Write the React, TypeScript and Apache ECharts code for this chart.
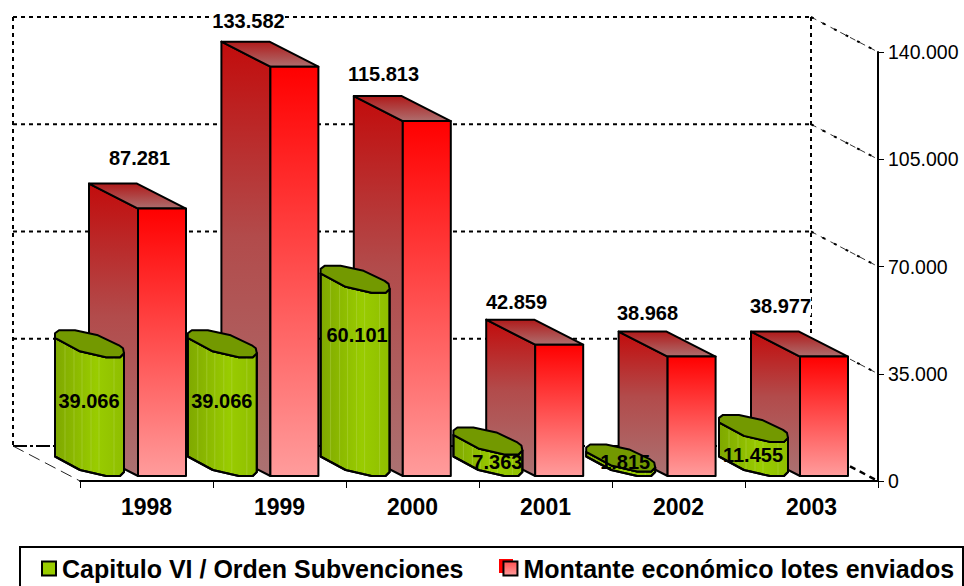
import React, { useEffect, useRef } from "react";
import * as echarts from "echarts";

const categories = ["1998", "1999", "2000", "2001", "2002", "2003"];
const capituloValues = [39066, 39066, 60101, 7363, 1815, 11455];
const montanteValues = [87281, 133582, 115813, 42859, 38968, 38977];
const yTicks = [0, 35000, 70000, 105000, 140000];
const seriesNames = ["Capitulo VI / Orden Subvenciones", "Montante económico lotes enviados"];

// layout only: hand-placed label shifts from each bar's reference point
const redLabelShift = [[-7, -26], [-31, -21], [-29, -22], [-29, -18], [-31, -19], [-31, -26]];
const greenLabelShift = [[0, 45], [0, 45], [2.5, 43], [10, 9], [5, -8], [0, 14]];

const fmt = (v: number) => String(v).replace(/\B(?=(\d{3})+$)/g, ".");
const FONT = "'Liberation Sans', Arial, sans-serif";

const DEPTH_X = -67, DEPTH_Y = -35, FLOOR = -5;
const CYL_F = [[0, -18.5], [25, -5], [51, 1], [65, 1], [69, -3]];
const CYL_B = [[68, -8], [64, -11], [43, -21], [20, -26], [4, -26], [0, -23]];
const STRIPES = [10, 19, 27, 36, 44, 59];

const grad = (x2: number, y2: number, stops: [number, string][]) =>
  new echarts.graphic.LinearGradient(0, 0, x2, y2, stops.map(([offset, color]) => ({ offset, color })));

function curveY(dx: number) {
  for (let i = 1; i < CYL_F.length; i++) {
    if (dx <= CYL_F[i][0]) {
      const [a, b] = [CYL_F[i - 1], CYL_F[i]];
      return a[1] + ((b[1] - a[1]) * (dx - a[0])) / (b[0] - a[0]);
    }
  }
  return 0;
}

const poly = (points: number[][], style: any) => ({ type: "polygon", shape: { points }, style });
const edge = { stroke: "#000", lineWidth: 2, lineJoin: "round" };

export default function App() {
  const ref = useRef<HTMLDivElement>(null);
  useEffect(() => {
    const chart = echarts.init(ref.current!, undefined, { renderer: "svg" });

    const renderWall = (params: any, api: any) => {
      const v = api.value(1);
      const cs = params.coordSys;
      const [, y] = api.coord([0, v]);
      const xr = cs.x + cs.width;
      const xl = cs.x;
      const dashed = { stroke: "#000", lineWidth: 2, lineDash: [4, 4], fill: "none" };
      const children: any[] = [
        { type: "line", shape: { x1: xl + DEPTH_X, y1: y + DEPTH_Y, x2: xr + DEPTH_X, y2: y + DEPTH_Y },
          style: v === 0 ? { stroke: "#000", lineWidth: 2, lineDash: [14, 3, 3, 3], fill: "none" } : dashed },
        { type: "line", shape: { x1: xr + DEPTH_X, y1: y + DEPTH_Y, x2: xr, y2: y },
          style: { stroke: "#333", lineWidth: 1, lineDash: [6, 5], fill: "none" } },
        { type: "line", shape: { x1: xr + DEPTH_X, y1: y + DEPTH_Y, x2: xr, y2: y },
          style: { stroke: "#000", lineWidth: v === 0 ? 2.5 : 2, lineDash: v === 0 ? [6, 5] : [3, 10], fill: "none" } },
      ];
      if (v === 0) {
        const top = cs.y + DEPTH_Y;
        children.push(
          { type: "line", shape: { x1: xl + DEPTH_X, y1: y + DEPTH_Y, x2: xl, y2: y },
            style: { stroke: "#222", lineWidth: 1, lineDash: [12, 6], fill: "none" } },
          { type: "line", shape: { x1: xl + DEPTH_X, y1: top, x2: xl + DEPTH_X, y2: y + DEPTH_Y }, style: dashed },
          { type: "line", shape: { x1: xr + DEPTH_X, y1: top, x2: xr + DEPTH_X, y2: y + DEPTH_Y }, style: dashed },
        );
      }
      return { type: "group", children };
    };

    const renderRed = (_p: any, api: any) => {
      const i = api.value(0);
      const [cx, y] = api.coord([i, api.value(1)]);
      const [, y0] = api.coord([i, 0]);
      const x0 = cx - 8.5 - 0.6 * i;
      const x1 = x0 + 48;
      const top = y + FLOOR, bot = y0 + FLOOR;
      const dx = -49, dy = -25;
      return {
        type: "group",
        children: [
          poly([[x0, top], [x0 + dx, top + dy], [x0 + dx, bot + dy], [x0, bot]], {
            ...edge, fill: grad(0, 1, [[0, "#C20C0C"], [0.45, "#B24B4B"], [1, "#AB7272"]]) }),
          poly([[x0, top], [x1, top], [x1 + dx, top + dy], [x0 + dx, top + dy]], {
            ...edge, fill: grad(0, 1, [[0, "#B01A1A"], [1, "#AE6E6E"]]) }),
          poly([[x0, top], [x1, top], [x1, bot], [x0, bot]], {
            ...edge, fill: grad(0, 1, [[0, "#FF0000"], [1, "#FF9C9C"]]) }),
        ],
      };
    };

    const renderGreen = (_p: any, api: any) => {
      const i = api.value(0);
      const [cx, y] = api.coord([i, api.value(1)]);
      const [, y0] = api.coord([i, 0]);
      const x0 = cx - 91.5 - 0.2 * i;
      const top = y + FLOOR, bot = y0 + FLOOR;
      const front = CYL_F.map(([a, b]) => [x0 + a, top + b]);
      const base = CYL_F.map(([a, b]) => [x0 + a, bot + b - 1]).reverse();
      const back = CYL_B.map(([a, b]) => [x0 + a, top + b]);
      const stripes = STRIPES.map((d) => ({
        type: "line",
        shape: { x1: x0 + d, y1: top + curveY(d), x2: x0 + d, y2: bot + curveY(d) - 1 },
        style: { stroke: "#C0DE66", lineWidth: 1, opacity: 0.35, fill: "none" },
      }));
      return {
        type: "group",
        children: [
          poly([...front, ...base], { ...edge, fill: grad(1, 0, [[0, "#7FA800"], [0.6, "#99CC00"], [1, "#8FBE00"]]) }),
          ...stripes,
          poly([...front, ...base], { ...edge, fill: "none" }),
          poly([...front, ...back], { ...edge, fill: "#739900" }),
        ],
      };
    };

    const renderRedLabel = (_p: any, api: any) => {
      const i = api.value(0);
      const v = api.value(1);
      const [cx, y] = api.coord([i, v]);
      const [sx, sy] = redLabelShift[i];
      return {
        type: "text",
        style: {
          x: cx + sx, y: y + FLOOR - 25 + sy, text: fmt(v), align: "center", verticalAlign: "middle",
          font: `bold 20px ${FONT}`, fill: "#000", backgroundColor: "#fff",
        },
      };
    };

    const renderGreenLabel = (_p: any, api: any) => {
      const i = api.value(0);
      const v = api.value(1);
      const [cx, y] = api.coord([i, v]);
      const [sx, sy] = greenLabelShift[i];
      return {
        type: "text",
        style: {
          x: cx - 57.5 - 0.2 * i + sx, y: y + FLOOR + sy, text: fmt(v), align: "center", verticalAlign: "middle",
          font: `bold 20px ${FONT}`, fill: "#000",
        },
      };
    };

    const custom = (name: string, data: any[], renderItem: any, extra: any = {}) => ({
      type: "custom", name, data, renderItem, silent: true, clip: false, encode: { x: 0, y: 1 }, ...extra,
    });
    const pairs = (arr: number[]) => arr.map((v, i) => [i, v]);

    chart.setOption({
      animation: false,
      backgroundColor: "#fff",
      grid: { left: 80, top: 52, width: 798, height: 429, containLabel: false },
      xAxis: {
        type: "category", data: categories, boundaryGap: true,
        axisLine: { show: true, lineStyle: { color: "#000", width: 2 } },
        axisTick: { show: true, length: 7, alignWithLabel: false, lineStyle: { color: "#000", width: 1 } },
        axisLabel: { margin: 14, color: "#000", fontFamily: FONT, fontWeight: "bold", fontSize: 23, interval: 0 },
        splitLine: { show: false },
      },
      yAxis: {
        type: "value", position: "right", min: 0, max: 140000, interval: 35000,
        axisLine: { show: true, onZero: false, lineStyle: { color: "#000", width: 2 } },
        axisTick: { show: true, length: 6, inside: false, lineStyle: { color: "#000", width: 1 } },
        axisLabel: { margin: 10, color: "#000", fontFamily: FONT, fontSize: 19.5, formatter: (v: number) => fmt(v) },
        splitLine: { show: false },
      },
      legend: {
        show: true, left: 36, top: 551, padding: 5, itemGap: 39, itemWidth: 14, itemHeight: 14,
        orient: "horizontal", selectedMode: false,
        textStyle: { color: "#000", fontFamily: FONT, fontWeight: "bold", fontSize: 25, padding: [2, 0, 0, 1] },
        data: [
          { name: seriesNames[0], icon: "rect", itemStyle: { color: "#99CC00", borderColor: "#000", borderWidth: 2 } },
          { name: seriesNames[1], icon: "rect", itemStyle: { color: grad(0, 1, [[0, "#FF5050"], [1, "#FF9C9C"]]), borderColor: "#000", borderWidth: 2 } },
        ],
      },
      graphic: [
        { type: "rect", z: -1, shape: { x: 20, y: 547, width: 943, height: 60 }, style: { fill: "#fff", stroke: "#000", lineWidth: 2 } },
        { type: "rect", z: 1, shape: { x: 499, y: 559, width: 14, height: 14 }, style: { fill: "#FF0000" } },
      ],
      series: [
        custom("wall", yTicks.map((v) => [0, v]), renderWall, { z: 1 }),
        custom(seriesNames[1], pairs(montanteValues), renderRed, { z: 2, itemStyle: { color: "#FF0000" } }),
        custom(seriesNames[0], pairs(capituloValues), renderGreen, { z: 3, itemStyle: { color: "#99CC00" } }),
        custom("redLabels", pairs(montanteValues), renderRedLabel, { z: 4 }),
        custom("greenLabels", pairs(capituloValues), renderGreenLabel, { z: 4 }),
      ],
    });
    return () => chart.dispose();
  }, []);
  return <div ref={ref} style={{ position: "fixed", left: 0, top: 0, width: 964, height: 586 }} />;
}
